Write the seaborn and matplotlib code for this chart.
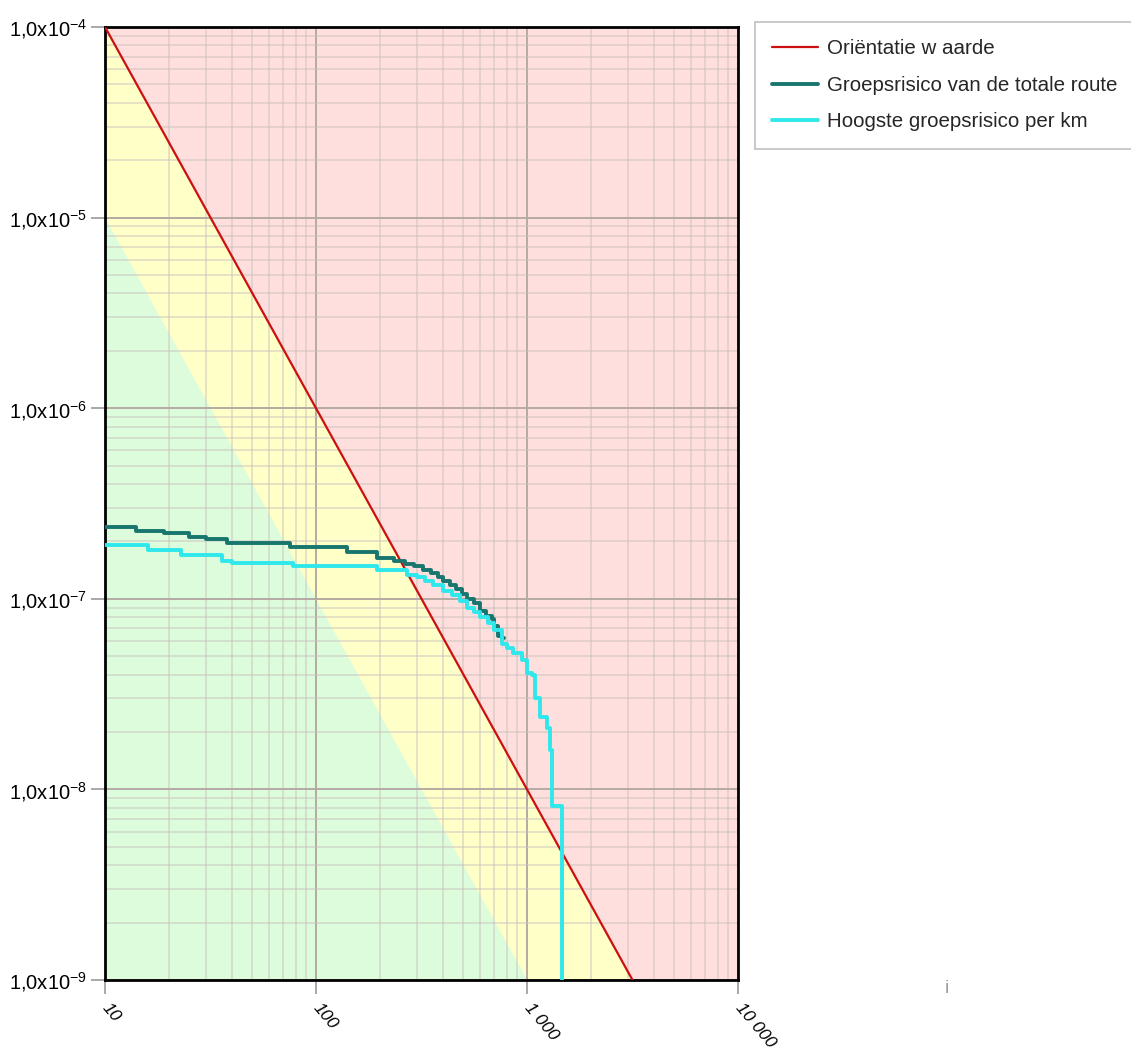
import numpy as np
import pandas as pd
import matplotlib
matplotlib.use("Agg")
import matplotlib.pyplot as plt
import seaborn as sns
from matplotlib.ticker import FixedLocator, FixedFormatter, LogLocator, NullFormatter

# ---- data ----
orient_N = [10, 100, 1000, 3162]
orient_F = [1e-4, 1e-6, 1e-8, 1e-9]
green_N = [10, 1000]
green_F = [1e-5, 1e-9]

teal_N = [10, 14, 19, 25, 30, 38, 75, 140, 195, 235, 265, 290, 320, 350, 380, 400,
          430, 460, 490, 520, 560, 600, 640, 680, 700, 730, 760, 780]
teal_F = [2.38e-7, 2.28e-7, 2.22e-7, 2.12e-7, 2.05e-7, 1.96e-7, 1.86e-7, 1.77e-7,
          1.64e-7, 1.58e-7, 1.53e-7, 1.48e-7, 1.42e-7, 1.36e-7, 1.30e-7, 1.24e-7,
          1.18e-7, 1.12e-7, 1.06e-7, 1.00e-7, 9.5e-8, 8.6e-8, 8.1e-8, 7.8e-8,
          7.2e-8, 6.4e-8, 6.2e-8, 6.2e-8]

cyan_N = [10, 16, 23, 36, 40, 78, 195, 270, 300, 330, 360, 400, 440, 480, 520, 560,
          600, 650, 700, 760, 800, 860, 950, 1000, 1060, 1090, 1150, 1240, 1280, 1310, 1470]
cyan_F = [1.91e-7, 1.80e-7, 1.70e-7, 1.57e-7, 1.55e-7, 1.48e-7, 1.42e-7, 1.34e-7,
          1.30e-7, 1.24e-7, 1.18e-7, 1.10e-7, 1.05e-7, 9.7e-8, 9.0e-8, 8.5e-8,
          8.0e-8, 7.5e-8, 6.9e-8, 5.8e-8, 5.5e-8, 5.2e-8, 4.8e-8, 4.1e-8, 4.0e-8,
          3.0e-8, 2.4e-8, 2.1e-8, 1.6e-8, 8.2e-9, 1e-9]

x_ticks = [10, 100, 1000, 10000]
x_labels = ["10", "100", "1 000", "10 000"]
y_ticks = [1e-9, 1e-8, 1e-7, 1e-6, 1e-5, 1e-4]
y_labels = [r"1,0x10$^{\mathregular{-9}}$", r"1,0x10$^{\mathregular{-8}}$",
            r"1,0x10$^{\mathregular{-7}}$", r"1,0x10$^{\mathregular{-6}}$",
            r"1,0x10$^{\mathregular{-5}}$", r"1,0x10$^{\mathregular{-4}}$"]

labels = ["Oriëntatie w aarde", "Groepsrisico van de totale route", "Hoogste groepsrisico per km"]

# ---- style ----
sns.set_theme(style="white")
plt.rcParams["font.family"] = ["Liberation Sans", "DejaVu Sans"]
plt.rcParams["mathtext.fontset"] = "custom"
plt.rcParams["mathtext.rm"] = "Liberation Sans"
plt.rcParams["mathtext.it"] = "Liberation Sans"

fig = plt.figure(figsize=(11.31, 10.53), dpi=100)
ax = fig.add_axes([105/1131, 1-980/1053, (738-105)/1131, (980-27)/1053])
ax.set_xscale("log")
ax.set_yscale("log")
ax.set_xlim(10, 10000)
ax.set_ylim(1e-9, 1e-4)

ax.set_facecolor("#ffdede")
ax.fill(orient_N + [10], orient_F + [1e-9], color="#ffffc8", zorder=0.1, lw=0)
ax.fill(green_N + [10], green_F + [1e-9], color="#dcfcdc", zorder=0.2, lw=0)

ax.set_axisbelow(True)
ax.grid(which="major", color="#b4aaa4", lw=1.4)
ax.grid(which="minor", color="#c8c0bc", lw=1.1, alpha=0.6)
ax.xaxis.set_minor_locator(LogLocator(base=10, subs=np.arange(2, 10)))
ax.yaxis.set_minor_locator(LogLocator(base=10, subs=np.arange(2, 10), numticks=20))
ax.xaxis.set_minor_formatter(NullFormatter())
ax.yaxis.set_minor_formatter(NullFormatter())

sns.lineplot(x=orient_N, y=orient_F, ax=ax, color="#cc1010", lw=1.6, estimator=None,
             sort=False, label=labels[0], zorder=3)
sns.lineplot(x=teal_N, y=teal_F, ax=ax, color="#18766e", lw=2.8, estimator=None,
             sort=False, drawstyle="steps-post", label=labels[1], zorder=4)
sns.lineplot(x=cyan_N, y=cyan_F, ax=ax, color="#2ee8ec", lw=2.8, estimator=None,
             sort=False, drawstyle="steps-post", label=labels[2], zorder=5)

ax.xaxis.set_major_locator(FixedLocator(x_ticks))
ax.xaxis.set_major_formatter(FixedFormatter(x_labels))
ax.yaxis.set_major_locator(FixedLocator(y_ticks))
ax.yaxis.set_major_formatter(FixedFormatter(y_labels))
ax.tick_params(axis="both", which="major", length=10, width=1.4, color="#a8a8a8",
               labelsize=14.5, labelcolor="black", left=True, bottom=True)
ax.tick_params(axis="both", which="minor", length=0)
ax.tick_params(axis="y", pad=3)
ax.tick_params(axis="x", pad=8)
for lab in ax.get_xticklabels():
    lab.set_rotation(-50)
    lab.set_ha("left")
    lab.set_va("center")
    lab.set_rotation_mode("anchor")
    lab.set_fontstyle("italic")
    lab.set_fontsize(12.5)

for sp in ax.spines.values():
    sp.set_visible(True)
    sp.set_color("black")
    sp.set_linewidth(2)

ax.set_xlabel("")
ax.set_ylabel("")

leg = ax.legend(loc="upper left", bbox_to_anchor=(755/1131, 1-22/1053),
                bbox_transform=fig.transFigure, frameon=True, fancybox=False,
                fontsize=14.8, handlelength=2.2, handletextpad=0.45,
                labelspacing=0.85, borderpad=0.85, borderaxespad=0)
leg.get_frame().set_edgecolor("#b0b0b0")
leg.get_frame().set_linewidth(1.2)
for ln in leg.get_lines():
    ln.set_linewidth(2.8)
leg.get_lines()[0].set_linewidth(1.6)

fig.text(945/1131, 1-993/1053, "i", color="#a0a0a0", fontsize=14)

fig.savefig("out.png", dpi=100)
